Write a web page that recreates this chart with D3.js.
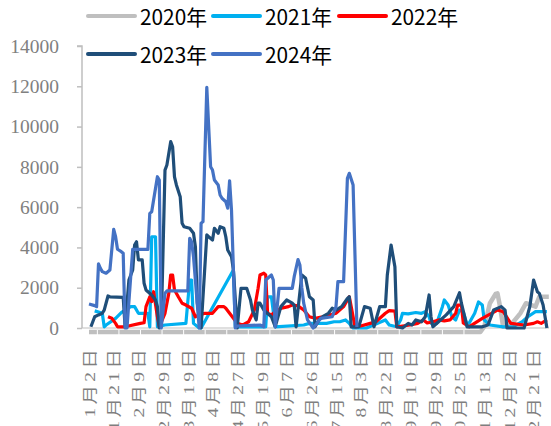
<!DOCTYPE html>
<html><head><meta charset="utf-8">
<script src="https://cdn.jsdelivr.net/npm/d3@7"></script>
<style>body{margin:0;background:#fff}svg{display:block}</style>
</head><body><svg id="c" width="551" height="426"></svg>
<script>
// x: trading-day index within the year (0 = 1月2日), y: value
const tickLabels = ["1月2日","1月21日","2月9日","2月29日","3月19日","4月8日","4月27日","5月19日","6月7日","6月26日","7月15日","8月3日","8月22日","9月10日","9月29日","10月25日","11月13日","12月2日","12月21日"];
const tickIndex = [0,13,26,39,52,65,78,91,104,117,130,143,156,169,182,195,208,221,234];
const yTicks = [0,2000,4000,6000,8000,10000,12000,14000];
const seriesNames = ["2020年","2021年","2022年","2023年","2024年"];
const seriesColors = ["#BFBFBF","#00B0F0","#FF0000","#1F4E79","#4472C4"];

const s2020 = [[0,-200],[206,-200],[208,60],[211,1230],[214,1690],[215,1720],[216,1230],[218,60],[222,150],[227,730],[230,1230],[235,1060],[237,1550],[242,1550]];
const s2021 = [[3,850],[7,730],[8,60],[9,150],[14,480],[17,760],[19,890],[22,1060],[24,1060],[26,730],[31,730],[32,60],[33,4530],[35,4530],[36,60],[40,150],[51,230],[53,2380],[54,2380],[55,230],[58,0],[59,0],[76,2880],[77,50],[93,60],[94,1550],[96,1550],[98,60],[113,150],[116,230],[125,230],[129,310],[132,310],[135,400],[137,230],[139,0],[146,0],[156,400],[158,150],[162,60],[164,400],[165,730],[168,700],[172,770],[175,730],[177,810],[179,560],[180,230],[183,230],[186,1060],[187,1390],[189,1140],[191,560],[193,400],[195,890],[197,800],[199,150],[200,230],[203,730],[205,1290],[207,1140],[208,400],[211,150],[218,60],[223,60],[228,310],[231,560],[235,810],[237,810],[241,810]];
const s2022 = [[10,560],[12,480],[14,230],[15,60],[19,60],[27,230],[29,260],[30,1060],[32,1550],[33,1310],[34,1800],[36,560],[37,60],[40,730],[42,1720],[43,2630],[44,2630],[45,1890],[47,1550],[49,1230],[51,1140],[54,980],[56,560],[58,650],[61,730],[65,730],[68,1060],[71,1060],[72,980],[74,730],[76,480],[78,230],[81,150],[84,310],[87,890],[89,1970],[90,2630],[92,2720],[93,2630],[94,730],[96,650],[99,890],[102,1000],[105,1060],[107,1140],[110,1100],[113,890],[116,560],[119,480],[123,560],[127,650],[130,730],[134,1060],[137,1550],[138,1060],[140,60],[143,100],[148,230],[151,310],[156,730],[158,860],[161,840],[162,60],[169,150],[173,230],[176,400],[178,250],[181,310],[184,400],[187,350],[190,400],[193,730],[194,1140],[196,1140],[197,250],[200,60],[207,480],[215,890],[218,810],[222,230],[229,150],[234,230],[236,310],[238,230],[241,400]];
const s2023 = [[1,60],[3,560],[5,650],[7,730],[8,890],[10,1590],[11,1550],[18,1520],[19,60],[21,2380],[23,2880],[24,4120],[25,4280],[26,3380],[28,3380],[29,2220],[30,1890],[33,1640],[35,1390],[36,1060],[37,0],[38,60],[40,7840],[41,8090],[43,9250],[44,9000],[45,7500],[46,7100],[48,6520],[49,5200],[50,5030],[53,4950],[55,4700],[56,4040],[57,1240],[59,0],[62,4620],[63,4530],[65,4370],[66,4950],[68,4700],[69,5030],[71,4950],[72,4530],[73,3870],[75,3540],[76,2880],[78,0],[80,1970],[83,1970],[85,1390],[86,890],[88,400],[89,1230],[90,1230],[92,890],[96,560],[98,60],[101,1060],[104,1390],[107,1230],[108,1140],[109,60],[112,2630],[114,2470],[116,1550],[118,1390],[119,60],[121,400],[123,560],[126,730],[128,980],[130,890],[133,1060],[136,1470],[137,1550],[138,60],[142,60],[145,1060],[148,980],[150,60],[153,1060],[156,1060],[157,2630],[159,4120],[161,3040],[162,60],[165,0],[168,230],[170,150],[172,400],[175,310],[177,560],[179,1640],[180,560],[181,60],[184,310],[188,650],[192,1060],[195,1750],[196,1230],[199,60],[207,60],[210,150],[213,900],[217,1060],[219,890],[220,0],[229,0],[232,1060],[234,2380],[236,1800],[237,1720],[239,1140],[241,0]];
const s2024 = [[0,1190],[3,1110],[4,1060],[5,3180],[6,2960],[7,2800],[9,2720],[11,2880],[13,4900],[14,4530],[15,3910],[17,3790],[18,3710],[19,0],[20,0],[23,3900],[31,3900],[32,5690],[33,5770],[34,6360],[36,7510],[37,7350],[38,0],[40,1720],[41,1840],[52,1840],[53,4450],[54,4280],[55,3540],[58,0],[59,5200],[60,5280],[62,11950],[64,8010],[65,7840],[66,7350],[68,7100],[69,6600],[70,6440],[72,6270],[73,5950],[74,7300],[75,5850],[77,0],[78,100],[90,150],[92,60],[93,2380],[96,2630],[97,2380],[98,60],[100,1970],[107,1970],[108,2550],[110,3400],[111,3130],[112,2000],[113,1230],[115,400],[118,0],[122,480],[128,560],[130,1060],[131,2300],[134,2300],[136,7430],[137,7680],[139,7100],[141,50]];
const allSeries = [s2020, s2021, s2022, s2023, s2024];

const svg = d3.select("#c");
const x = d3.scaleLinear().domain([0, 242]).range([89, 548.8]);
const y = d3.scaleLinear().domain([0, 14000]).range([328, 46]);

// y axis
const yAxis = svg.append("g").attr("transform","translate(82,0)")
  .call(d3.axisLeft(y).tickValues(yTicks).tickSize(5).tickPadding(18).tickFormat(d3.format("d")));
yAxis.select(".domain").attr("stroke","#BFBFBF").attr("stroke-width",1.5).attr("d","M-5,46H0V328");
yAxis.selectAll(".tick line").attr("stroke","#BFBFBF").attr("stroke-width",1.5);
yAxis.selectAll(".tick text").attr("fill","#808080").attr("font-family","'Liberation Serif','Times New Roman',serif").attr("font-size","19.5px");

// x axis line
svg.append("line").attr("x1",82).attr("x2",549).attr("y1",y(0)).attr("y2",y(0)).attr("stroke","#BFBFBF").attr("stroke-width",1.2);

const line = d3.line().x(d => x(d[0])).y(d => y(d[1]));

// 2020 first
svg.append("path").datum(s2020).attr("d",line).attr("fill","none").attr("stroke",seriesColors[0]).attr("stroke-width",4.5).attr("stroke-linejoin","round");

// white tick marks on the category axis band
const tickPos = d3.range(4.4, 242, 11.35);
svg.selectAll("line.xt").data(tickPos).join("line").attr("class","xt")
  .attr("x1",d=>x(d)).attr("x2",d=>x(d)).attr("y1",y(0)+2).attr("y2",y(0)+7)
  .attr("stroke","#fff").attr("stroke-width",1);

for (let k = 1; k < allSeries.length; k++) {
  svg.append("path").datum(allSeries[k]).attr("d",line).attr("fill","none")
    .attr("stroke",seriesColors[k]).attr("stroke-width",3.2).attr("stroke-linejoin","round");
}

// x labels
svg.selectAll("text.xl").data(tickLabels).join("text").attr("class","xl")
  .attr("transform",(d,i)=>`translate(${x(tickIndex[i])+1},346) rotate(-90) scale(1.3,1)`)
  .attr("text-anchor","end").attr("dominant-baseline","central")
  .attr("fill","#7F7F7F").attr("font-family","'Liberation Serif','Noto Sans CJK SC',serif")
  .attr("font-size","15px").attr("letter-spacing","2.5px").text(d=>d);

// legend
const legPos = [[88,16],[213,16],[339,16],[88,54],[213,54]];
seriesNames.forEach((n,i)=>{
  const [lx,ly] = legPos[i];
  svg.append("line").attr("x1",lx).attr("x2",lx+47).attr("y1",ly).attr("y2",ly)
    .attr("stroke",seriesColors[i]).attr("stroke-width",4).attr("stroke-linecap","round");
  svg.append("text").attr("x",lx+52).attr("y",ly).attr("dominant-baseline","central")
    .attr("font-family","'Noto Sans CJK SC','Noto Sans',sans-serif").attr("font-size","21px")
    .attr("fill","#000").attr("textLength",67).attr("lengthAdjust","spacingAndGlyphs").text(n);
});
</script></body></html>
